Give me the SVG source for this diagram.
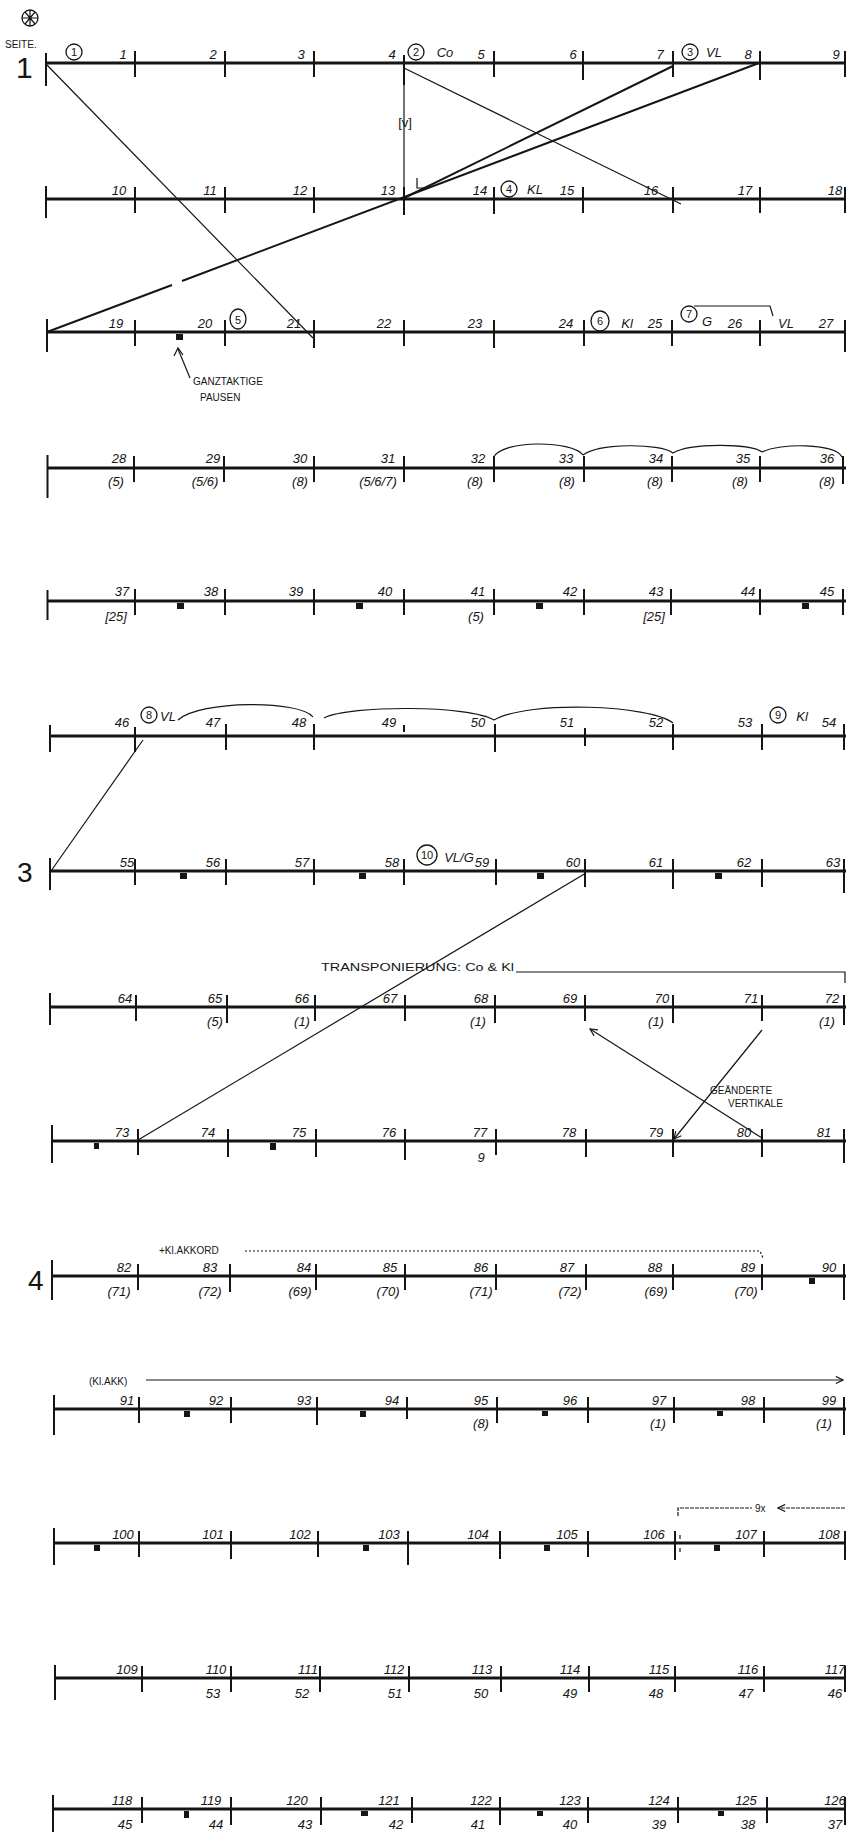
<svg xmlns="http://www.w3.org/2000/svg" width="847" height="1841" viewBox="0 0 847 1841">
<style>
.staff{stroke:#151515;stroke-width:3.2;fill:none}
.tick{stroke:#151515;stroke-width:2;fill:none}
.thin{stroke:#151515;stroke-width:1.2;fill:none}
.thick{stroke:#151515;stroke-width:2;fill:none}
.circ{stroke:#151515;stroke-width:1.3;fill:none}
.rest{fill:#151515}
text{font-family:"Liberation Sans",Arial,sans-serif;fill:#151515}
.n{font-size:13px;font-style:italic;text-anchor:middle}
.c{font-size:11px;text-anchor:middle}
.s{font-size:10px}
.big{font-size:30px}
</style>
<defs>
<marker id="v" viewBox="0 0 10 10" refX="9" refY="5" markerWidth="9" markerHeight="9" orient="auto-start-reverse" markerUnits="userSpaceOnUse">
<path d="M1,1L9,5L1,9" fill="none" stroke="#151515" stroke-width="1.3"/>
</marker>
</defs>
<rect width="847" height="1841" fill="#fff"/>

<g id="page-marks">
<circle class="circ" cx="30" cy="18" r="8"/>
<path class="thin" d="M25,12L35,24M35,12L25,24M30,10V26M22,18H38"/>
<text class="s" x="5" y="48">SEITE.</text>
<text class="big" x="16" y="78">1</text>
<text class="big" x="17" y="882" style="font-size:28px">3</text>
<text class="big" x="28" y="1290" style="font-size:28px">4</text>
</g>

<g id="row1">
<path class="staff" d="M46,63H846"/>
<path class="tick" d="M46,53V86M135,51V77M225,51V77M314,51V77M404,55V85M494,51V77M583,51V80M673,51V77M760,51V80M845,51V77"/>
<text class="n" x="123" y="59">1</text><text class="n" x="213" y="59">2</text><text class="n" x="301" y="59">3</text><text class="n" x="392" y="59">4</text><text class="n" x="481" y="59">5</text><text class="n" x="573" y="59">6</text><text class="n" x="660" y="59">7</text><text class="n" x="748" y="59">8</text><text class="n" x="836" y="59">9</text>
<circle class="circ" cx="74" cy="52" r="8"/><text class="c" x="74" y="56">1</text>
<circle class="circ" cx="416" cy="52" r="8"/><text class="c" x="416" y="56">2</text>
<text class="n" x="445" y="57">Co</text>
<circle class="circ" cx="690" cy="52" r="8"/><text class="c" x="690" y="56">3</text>
<text class="n" x="714" y="57">VL</text>
</g>

<g id="row2">
<path class="staff" d="M46,199H846"/>
<path class="tick" d="M46,186V218M135,187V213M225,187V213M314,187V213M404,187V215M494,187V214M583,187V213M673,187V213M760,187V213M845,187V213"/>
<text class="n" x="119" y="195">10</text><text class="n" x="210" y="195">11</text><text class="n" x="300" y="195">12</text><text class="n" x="388" y="195">13</text><text class="n" x="480" y="195">14</text><text class="n" x="567" y="195">15</text><text class="n" x="651" y="195">16</text><text class="n" x="745" y="195">17</text><text class="n" x="835" y="195">18</text>
<circle class="circ" cx="509" cy="189" r="8"/><text class="c" x="509" y="193">4</text>
<text class="n" x="535" y="194">KL</text>
<path class="thin" d="M417,178V188H426"/>
</g>

<g id="row3">
<path class="staff" d="M47,332H846"/>
<path class="tick" d="M47,319V352M135,320V346M225,320V346M314,320V348M404,320V346M494,320V348M584,320V346M672,320V346M760,320V346M845,320V352"/>
<rect class="rest" x="176" y="334" width="7" height="6"/>
<text class="n" x="116" y="328">19</text><text class="n" x="205" y="328">20</text><text class="n" x="294" y="328">21</text><text class="n" x="384" y="328">22</text><text class="n" x="475" y="328">23</text><text class="n" x="566" y="328">24</text><text class="n" x="655" y="328">25</text><text class="n" x="735" y="328">26</text><text class="n" x="826" y="328">27</text>
<ellipse class="circ" cx="238" cy="319" rx="8" ry="10"/><text class="c" x="238" y="324">5</text>
<ellipse class="circ" cx="600" cy="321" rx="9" ry="10"/><text class="c" x="600" y="325">6</text>
<text class="n" x="627" y="328">Kl</text>
<circle class="circ" cx="689" cy="314" r="8"/><text class="c" x="689" y="318">7</text>
<text class="n" x="707" y="326">G</text>
<path class="thin" d="M694,306H770L773,316"/>
<text class="n" x="786" y="328">VL</text>
<path class="thin" d="M190,378L178,349"/>
<path class="thin" d="M174,356L178,348L183,355"/>
<text class="s" x="193" y="385">GANZTAKTIGE</text>
<text class="s" x="200" y="401">PAUSEN</text>
</g>

<g id="row4">
<path class="staff" d="M47,468H846"/>
<path class="tick" d="M47.5,455V498M134,456V482M224,456V482M314,456V482M404,456V482M494,456V482M584,456V482M672,456V482M760,456V482M843,456V484"/>
<text class="n" x="119" y="463">28</text><text class="n" x="213" y="463">29</text><text class="n" x="300" y="463">30</text><text class="n" x="388" y="463">31</text><text class="n" x="478" y="463">32</text><text class="n" x="566" y="463">33</text><text class="n" x="656" y="463">34</text><text class="n" x="743" y="463">35</text><text class="n" x="827" y="463">36</text>
<text class="n" x="116" y="486">(5)</text><text class="n" x="205" y="486">(5/6)</text><text class="n" x="300" y="486">(8)</text><text class="n" x="378" y="486">(5/6/7)</text><text class="n" x="475" y="486">(8)</text><text class="n" x="567" y="486">(8)</text><text class="n" x="655" y="486">(8)</text><text class="n" x="740" y="486">(8)</text><text class="n" x="827" y="486">(8)</text>
<path class="thin" d="M494,457C502,440 572,440 583,455M583,455C598,443 660,443 673,453M673,453C690,443 750,443 762,452M762,452C780,443 835,443 842,457"/>
</g>

<g id="row5">
<path class="staff" d="M47,601H846"/>
<path class="tick" d="M47.5,590V620M135,589V615M225,589V615M314,589V615M404,589V615M494,589V615M584,589V615M671,589V615M760,589V615M843,589V615"/>
<rect class="rest" x="177" y="603" width="7" height="6"/><rect class="rest" x="356" y="603" width="7" height="6"/><rect class="rest" x="536" y="603" width="7" height="6"/><rect class="rest" x="802" y="603" width="7" height="6"/>
<text class="n" x="122" y="596">37</text><text class="n" x="211" y="596">38</text><text class="n" x="296" y="596">39</text><text class="n" x="385" y="596">40</text><text class="n" x="478" y="596">41</text><text class="n" x="570" y="596">42</text><text class="n" x="656" y="596">43</text><text class="n" x="748" y="596">44</text><text class="n" x="827" y="596">45</text>
<text class="n" x="116" y="621">[25]</text><text class="n" x="476" y="621">(5)</text><text class="n" x="654" y="621">[25]</text>
</g>

<g id="row6">
<path class="staff" d="M50,736H846"/>
<path class="tick" d="M50,725V752M135,727V752M226,724V750M314,724V750M404,725V732M495,724V752M585,728V746M673,724V750M762,724V750M844,724V750"/>
<text class="n" x="122" y="727">46</text><text class="n" x="213" y="727">47</text><text class="n" x="299" y="727">48</text><text class="n" x="389" y="727">49</text><text class="n" x="478" y="727">50</text><text class="n" x="567" y="727">51</text><text class="n" x="656" y="727">52</text><text class="n" x="745" y="727">53</text><text class="n" x="829" y="727">54</text>
<circle class="circ" cx="149" cy="715" r="8"/><text class="c" x="149" y="719">8</text>
<text class="n" x="168" y="721">VL</text>
<circle class="circ" cx="778" cy="715" r="8"/><text class="c" x="778" y="719">9</text>
<text class="n" x="802" y="721">Kl</text>
<path class="thin" d="M178,720C200,700 300,700 313,717M324,718C350,705 470,705 494,720M494,720C530,700 650,705 673,723"/>
</g>

<g id="row7">
<path class="staff" d="M50,871H846"/>
<path class="tick" d="M50,858V890M135,859V885M226,859V885M314,859V885M404,859V885M496,859V885M585,859V887M673,859V889M762,859V887M844,859V893"/>
<rect class="rest" x="180" y="873" width="7" height="6"/><rect class="rest" x="359" y="873" width="7" height="6"/><rect class="rest" x="537" y="873" width="7" height="6"/><rect class="rest" x="715" y="873" width="7" height="6"/>
<text class="n" x="127" y="867">55</text><text class="n" x="213" y="867">56</text><text class="n" x="302" y="867">57</text><text class="n" x="392" y="867">58</text><text class="n" x="482" y="867">59</text><text class="n" x="573" y="867">60</text><text class="n" x="656" y="867">61</text><text class="n" x="744" y="867">62</text><text class="n" x="833" y="867">63</text>
<circle class="circ" cx="427" cy="855" r="10"/><text class="c" x="427" y="859">10</text>
<text class="n" x="459" y="862">VL/G</text>
</g>

<g id="row8">
<path class="staff" d="M50,1007H846"/>
<path class="tick" d="M50,993V1025M136,995V1021M227,995V1023M315,995V1021M405,995V1021M495,995V1023M585,995V1021M673,995V1023M762,995V1021M844,995V1025"/>
<text class="n" x="125" y="1003">64</text><text class="n" x="215" y="1003">65</text><text class="n" x="302" y="1003">66</text><text class="n" x="390" y="1003">67</text><text class="n" x="481" y="1003">68</text><text class="n" x="570" y="1003">69</text><text class="n" x="662" y="1003">70</text><text class="n" x="751" y="1003">71</text><text class="n" x="832" y="1003">72</text>
<text class="n" x="215" y="1026">(5)</text><text class="n" x="302" y="1026">(1)</text><text class="n" x="478" y="1026">(1)</text><text class="n" x="656" y="1026">(1)</text><text class="n" x="827" y="1026">(1)</text>
<text class="s" x="321" y="971" textLength="193" lengthAdjust="spacingAndGlyphs">TRANSPONIERUNG: Co &amp; Kl</text>
<path class="thin" d="M516,972H845V983"/>
</g>

<g id="row9">
<path class="staff" d="M52,1141H846"/>
<path class="tick" d="M52,1125V1163M138,1129V1155M228,1129V1157M316,1129V1157M405,1129V1160M496,1129V1155M586,1129V1157M673,1129V1157M762,1129V1157M844,1129V1163"/>
<rect class="rest" x="94" y="1143" width="5" height="6"/><rect class="rest" x="270" y="1143" width="6" height="7"/>
<text class="n" x="122" y="1137">73</text><text class="n" x="208" y="1137">74</text><text class="n" x="299" y="1137">75</text><text class="n" x="389" y="1137">76</text><text class="n" x="480" y="1137">77</text><text class="n" x="569" y="1137">78</text><text class="n" x="656" y="1137">79</text><text class="n" x="744" y="1137">80</text><text class="n" x="824" y="1137">81</text>
<text class="n" x="481" y="1162">9</text>
<text class="s" x="710" y="1094">GEÄNDERTE</text>
<text class="s" x="728" y="1107">VERTIKALE</text>
</g>

<g id="row10">
<path class="staff" d="M52,1276H846"/>
<path class="tick" d="M52,1260V1300M138,1264V1290M230,1264V1292M316,1264V1290M405,1264V1290M496,1264V1290M586,1264V1290M673,1264V1290M762,1264V1290M844,1264V1300"/>
<rect class="rest" x="809" y="1278" width="6" height="6"/>
<text class="n" x="124" y="1272">82</text><text class="n" x="210" y="1272">83</text><text class="n" x="304" y="1272">84</text><text class="n" x="390" y="1272">85</text><text class="n" x="481" y="1272">86</text><text class="n" x="567" y="1272">87</text><text class="n" x="655" y="1272">88</text><text class="n" x="748" y="1272">89</text><text class="n" x="829" y="1272">90</text>
<text class="n" x="119" y="1296">(71)</text><text class="n" x="210" y="1296">(72)</text><text class="n" x="300" y="1296">(69)</text><text class="n" x="388" y="1296">(70)</text><text class="n" x="481" y="1296">(71)</text><text class="n" x="570" y="1296">(72)</text><text class="n" x="656" y="1296">(69)</text><text class="n" x="746" y="1296">(70)</text>
<text class="s" x="159" y="1254">+Kl.AKKORD</text>
<path class="thin" d="M245,1251H760L763,1258" stroke-dasharray="2 2"/>
</g>

<g id="row11">
<path class="staff" d="M54,1409H846"/>
<path class="tick" d="M54,1395V1435M139,1397V1423M231,1397V1423M317,1397V1425M407,1397V1419M497,1397V1423M588,1397V1423M674,1397V1423M764,1397V1423M844,1397V1435"/>
<rect class="rest" x="184" y="1411" width="6" height="6"/><rect class="rest" x="360" y="1411" width="6" height="6"/><rect class="rest" x="542" y="1411" width="6" height="5"/><rect class="rest" x="717" y="1411" width="6" height="5"/>
<text class="n" x="127" y="1405">91</text><text class="n" x="216" y="1405">92</text><text class="n" x="304" y="1405">93</text><text class="n" x="392" y="1405">94</text><text class="n" x="481" y="1405">95</text><text class="n" x="570" y="1405">96</text><text class="n" x="659" y="1405">97</text><text class="n" x="748" y="1405">98</text><text class="n" x="829" y="1405">99</text>
<text class="n" x="481" y="1428">(8)</text><text class="n" x="658" y="1428">(1)</text><text class="n" x="824" y="1428">(1)</text>
<text class="s" x="89" y="1385">(Kl.AKK)</text>
<path class="thin" d="M146,1380H843" marker-end="url(#v)"/>
</g>

<g id="row12">
<path class="staff" d="M54,1543H846"/>
<path class="tick" d="M54,1528V1565M139,1531V1557M231,1531V1559M318,1531V1557M408,1531V1565M500,1531V1559M588,1531V1557M675,1531V1560M764,1531V1557M845,1531V1560"/>
<rect class="rest" x="94" y="1545" width="6" height="6"/><rect class="rest" x="363" y="1545" width="6" height="6"/><rect class="rest" x="544" y="1545" width="6" height="6"/><rect class="rest" x="714" y="1545" width="6" height="6"/>
<path class="thin" d="M680,1535V1539M680,1548V1552"/>
<text class="n" x="123" y="1539">100</text><text class="n" x="213" y="1539">101</text><text class="n" x="300" y="1539">102</text><text class="n" x="389" y="1539">103</text><text class="n" x="478" y="1539">104</text><text class="n" x="567" y="1539">105</text><text class="n" x="654" y="1539">106</text><text class="n" x="746" y="1539">107</text><text class="n" x="829" y="1539">108</text>
<path class="thin" d="M678,1516V1508H752" stroke-dasharray="4 1"/>
<text class="s" x="755" y="1512">9x</text>
<path class="thin" d="M845,1508H778" stroke-dasharray="4 1" marker-end="url(#v)"/>
</g>

<g id="row13">
<path class="staff" d="M55,1678H846"/>
<path class="tick" d="M55,1665V1700M142,1666V1692M231,1666V1692M320,1666V1692M409,1666V1692M501,1666V1692M589,1666V1692M675,1666V1692M764,1666V1692M845,1666V1692"/>
<text class="n" x="127" y="1674">109</text><text class="n" x="216" y="1674">110</text><text class="n" x="308" y="1674">111</text><text class="n" x="394" y="1674">112</text><text class="n" x="482" y="1674">113</text><text class="n" x="570" y="1674">114</text><text class="n" x="659" y="1674">115</text><text class="n" x="748" y="1674">116</text><text class="n" x="835" y="1674">117</text>
<text class="n" x="213" y="1698">53</text><text class="n" x="302" y="1698">52</text><text class="n" x="395" y="1698">51</text><text class="n" x="481" y="1698">50</text><text class="n" x="570" y="1698">49</text><text class="n" x="656" y="1698">48</text><text class="n" x="746" y="1698">47</text><text class="n" x="835" y="1698">46</text>
</g>

<g id="row14">
<path class="staff" d="M53,1809H846"/>
<path class="tick" d="M53,1795V1832M142,1797V1823M231,1797V1825M321,1797V1825M412,1797V1823M500,1797V1825M588,1797V1823M678,1797V1823M767,1797V1823M845,1797V1825"/>
<rect class="rest" x="184" y="1811" width="5" height="7"/><rect class="rest" x="361" y="1811" width="7" height="5"/><rect class="rest" x="537" y="1811" width="6" height="5"/><rect class="rest" x="718" y="1811" width="6" height="5"/>
<text class="n" x="122" y="1805">118</text><text class="n" x="211" y="1805">119</text><text class="n" x="297" y="1805">120</text><text class="n" x="389" y="1805">121</text><text class="n" x="481" y="1805">122</text><text class="n" x="570" y="1805">123</text><text class="n" x="659" y="1805">124</text><text class="n" x="746" y="1805">125</text><text class="n" x="835" y="1805">126</text>
<text class="n" x="125" y="1829">45</text><text class="n" x="216" y="1829">44</text><text class="n" x="305" y="1829">43</text><text class="n" x="396" y="1829">42</text><text class="n" x="478" y="1829">41</text><text class="n" x="570" y="1829">40</text><text class="n" x="659" y="1829">39</text><text class="n" x="748" y="1829">38</text><text class="n" x="835" y="1829">37</text>
</g>

<g id="connectors">
<path class="thin" d="M46,64L313,338"/>
<path class="thin" d="M404,68L681,204"/>
<path class="thin" d="M404,66V199"/>
<text x="405" y="127" style="font-size:13px;text-anchor:middle">[v]</text>
<path class="thick" d="M673,66L402,199"/>
<path class="thick" d="M759,63L182,281M172,285L47,332"/>
<path class="thin" d="M143,740L51,871"/>
<path class="thin" d="M586,873L138,1140"/>
<path class="thin" d="M762,1138L590,1029" marker-end="url(#v)"/>
<path class="thin" d="M762,1030L674,1139" marker-end="url(#v)"/>
</g>
</svg>
